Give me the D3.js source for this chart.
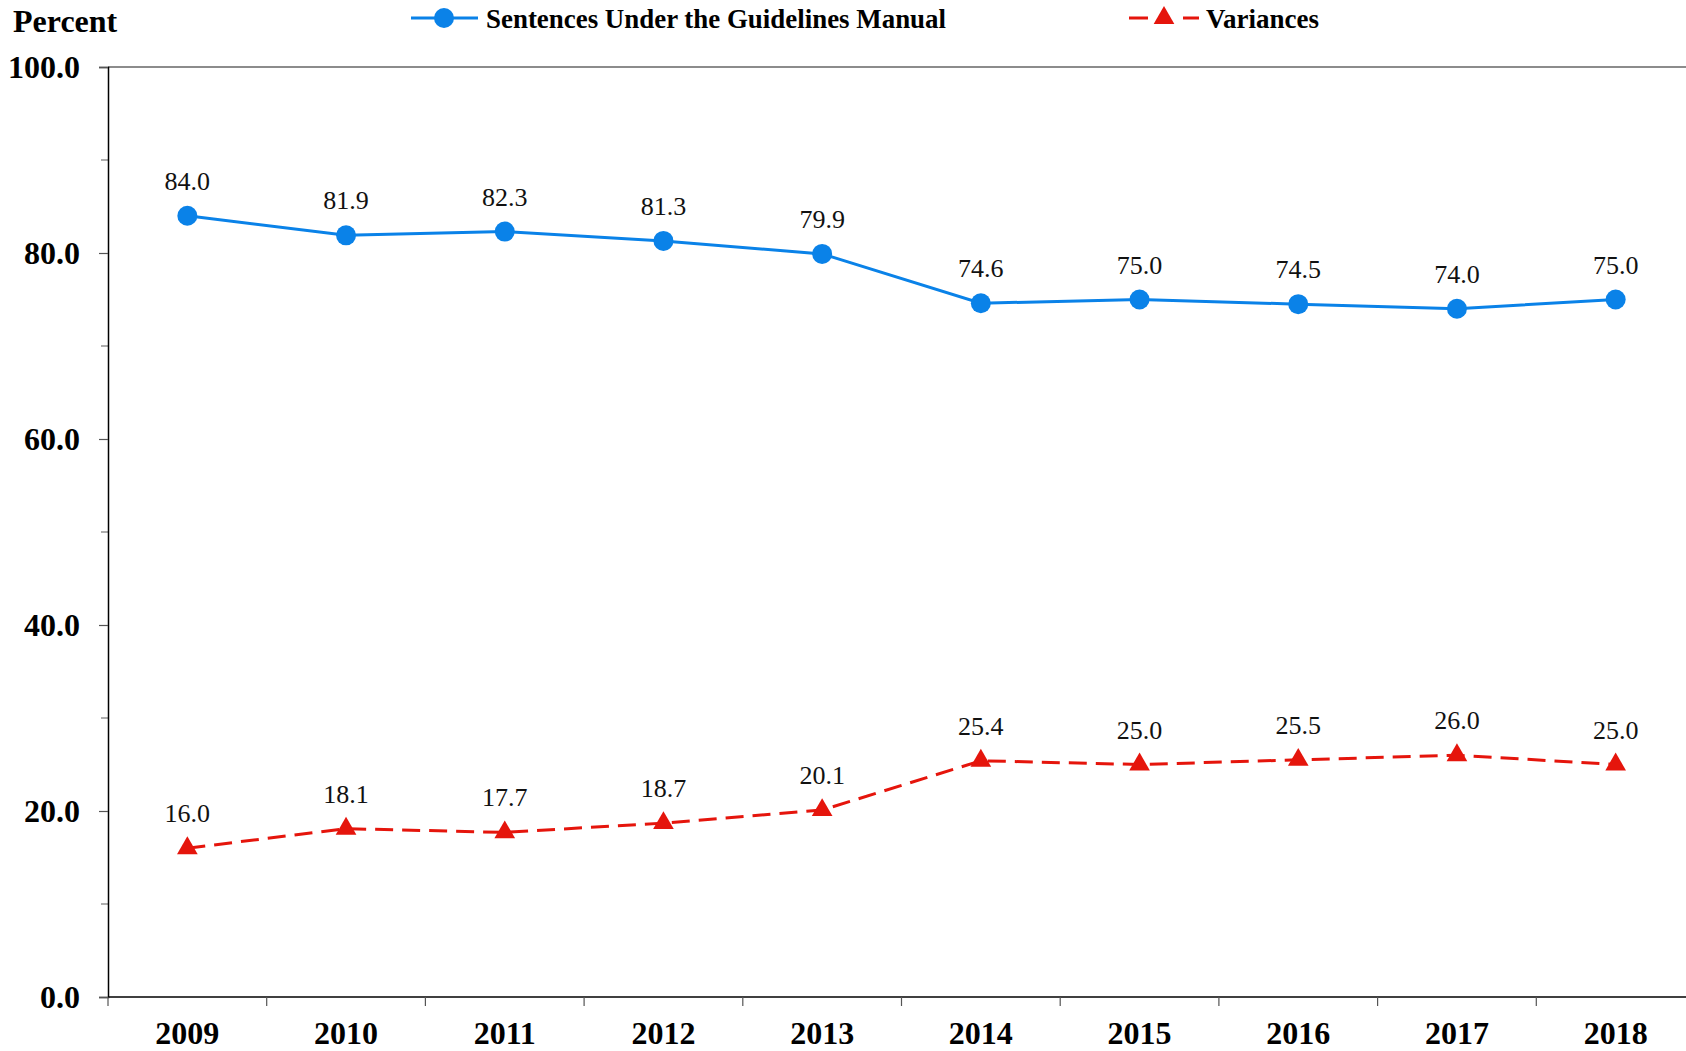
<!DOCTYPE html>
<html>
<head>
<meta charset="utf-8">
<script src="https://cdn.jsdelivr.net/npm/d3@7"></script>
<style>
  body { margin: 0; background: #fff; }
  svg { display: block; }
  text { font-family: "Liberation Serif", "Times New Roman", serif; }
</style>
</head>
<body>
<svg width="1686" height="1051"></svg>
<script>
// chart data
var years = ["2009", "2010", "2011", "2012", "2013", "2014", "2015", "2016", "2017", "2018"];
var guidelines = [84.0, 81.9, 82.3, 81.3, 79.9, 74.6, 75.0, 74.5, 74.0, 75.0];
var variances = [16.0, 18.1, 17.7, 18.7, 20.1, 25.4, 25.0, 25.5, 26.0, 25.0];
var yTicks = [0, 20, 40, 60, 80, 100];
var yMinor = [10, 30, 50, 70, 90];
var seriesNames = ["Sentences Under the Guidelines Manual", "Variances"];

var blue = "#0a82e8", red = "#e5150c";

var svg = d3.select("svg"),
    margin = {top: 67, left: 108, bottom: 54},
    band = 158.7,
    height = +svg.attr("height") - margin.top - margin.bottom,
    width = band * years.length,
    g = svg.append("g").attr("transform", "translate(" + margin.left + "," + margin.top + ")");

var x = d3.scaleBand().domain(years).range([0, width]);
var y = d3.scaleLinear().domain([0, 100]).range([height, 0]);

// top border of plot area
g.append("line")
  .attr("x1", 0).attr("x2", width)
  .attr("y1", 0).attr("y2", 0)
  .attr("stroke", "#666").attr("stroke-width", 1.5);

// minor y ticks
g.selectAll(".minor")
  .data(yMinor)
  .enter().append("line")
    .attr("x1", -7).attr("x2", 0)
    .attr("y1", function(d) { return y(d); })
    .attr("y2", function(d) { return y(d); })
    .attr("stroke", "#777").attr("stroke-width", 1.2);

// y axis
var yAxis = g.append("g")
  .call(d3.axisLeft(y).tickValues(yTicks).tickSize(9).tickPadding(19)
    .tickFormat(d3.format(".1f")));
yAxis.select(".domain").attr("stroke", "#000").attr("stroke-width", 1.5);
yAxis.selectAll(".tick line").attr("stroke", "#555").attr("stroke-width", 1.2);
yAxis.selectAll(".tick text")
  .attr("font-size", 32)
  .attr("font-weight", "bold")
  .attr("fill", "#000");

// x axis, ticks between the categories
var xAxis = g.append("g").attr("transform", "translate(0," + height + ")");
xAxis.append("line")
  .attr("x1", 0).attr("x2", width)
  .attr("stroke", "#000").attr("stroke-width", 1.5);
xAxis.selectAll(".xtick")
  .data(years)
  .enter().append("line")
    .attr("x1", function(d) { return x(d); })
    .attr("x2", function(d) { return x(d); })
    .attr("y1", 0).attr("y2", 9)
    .attr("stroke", "#555").attr("stroke-width", 1.2);
xAxis.selectAll(".xlabel")
  .data(years)
  .enter().append("text")
    .attr("x", function(d) { return x(d) + x.bandwidth() / 2; })
    .attr("y", 47)
    .attr("text-anchor", "middle")
    .attr("font-size", 32)
    .attr("font-weight", "bold")
    .text(function(d) { return d; });

// y axis title
svg.append("text")
  .attr("x", 13).attr("y", 32)
  .attr("font-size", 32)
  .attr("font-weight", "bold")
  .text("Percent");

function cx(i) { return x(years[i]) + x.bandwidth() / 2; }

var line = d3.line()
  .x(function(d, i) { return cx(i); })
  .y(function(d) { return y(d); });

// guidelines series
g.append("path")
  .datum(guidelines)
  .attr("d", line)
  .attr("fill", "none")
  .attr("stroke", blue)
  .attr("stroke-width", 3);

g.selectAll(".dot")
  .data(guidelines)
  .enter().append("circle")
    .attr("cx", function(d, i) { return cx(i); })
    .attr("cy", function(d) { return y(d); })
    .attr("r", 10)
    .attr("fill", blue);

// variances series
g.append("path")
  .datum(variances)
  .attr("d", line)
  .attr("fill", "none")
  .attr("stroke", red)
  .attr("stroke-width", 3)
  .attr("stroke-dasharray", "18,9");

var tri = d3.symbol().type(d3.symbolTriangle).size(185);
g.selectAll(".tri")
  .data(variances)
  .enter().append("path")
    .attr("d", tri)
    .attr("transform", function(d, i) { return "translate(" + cx(i) + "," + y(d) + ")"; })
    .attr("fill", red);

// value labels
[guidelines, variances].forEach(function(series) {
  g.selectAll(null)
    .data(series)
    .enter().append("text")
      .attr("x", function(d, i) { return cx(i); })
      .attr("y", function(d) { return y(d) - 26; })
      .attr("text-anchor", "middle")
      .attr("font-size", 26)
      .attr("fill", "#111")
      .text(function(d) { return d.toFixed(1); });
});

// legend
var legend = svg.append("g");
var l1 = legend.append("g").attr("transform", "translate(411,18)");
l1.append("line").attr("x1", 0).attr("x2", 67)
  .attr("stroke", blue).attr("stroke-width", 3);
l1.append("circle").attr("cx", 33).attr("r", 10).attr("fill", blue);
l1.append("text").attr("x", 75).attr("y", 10)
  .attr("font-size", 28).attr("font-weight", "bold")
  .attr("textLength", 460).attr("lengthAdjust", "spacingAndGlyphs")
  .text(seriesNames[0]);

var l2 = legend.append("g").attr("transform", "translate(1129,18)");
l2.append("line").attr("x1", 0).attr("x2", 70)
  .attr("stroke", red).attr("stroke-width", 3)
  .attr("stroke-dasharray", "19,35");
l2.append("path").attr("d", tri).attr("transform", "translate(35,0)").attr("fill", red);
l2.append("text").attr("x", 77).attr("y", 10)
  .attr("font-size", 28).attr("font-weight", "bold")
  .attr("textLength", 113).attr("lengthAdjust", "spacingAndGlyphs")
  .text(seriesNames[1]);
</script>
</body>
</html>
